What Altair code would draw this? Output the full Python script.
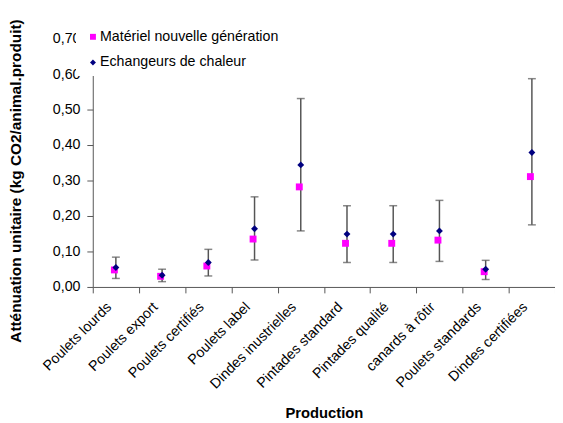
import altair as alt
import pandas as pd

categories = ["Poulets lourds", "Poulets export", "Poulets certifiés", "Poulets label",
              "Dindes inustrielles", "Pintades standard", "Pintades qualité",
              "canards à rôtir", "Poulets standards", "Dindes certifiées"]
series_names = ["Matériel nouvelle génération", "Echangeurs de chaleur"]
materiel = [0.048, 0.030, 0.059, 0.135, 0.282, 0.123, 0.123, 0.132, 0.043, 0.311]
echangeurs = [0.055, 0.033, 0.069, 0.164, 0.344, 0.149, 0.149, 0.158, 0.050, 0.379]
err_low = [0.024, 0.015, 0.031, 0.076, 0.158, 0.069, 0.069, 0.072, 0.021, 0.175]
err_high = [0.084, 0.050, 0.106, 0.254, 0.531, 0.229, 0.229, 0.244, 0.075, 0.587]
y_ticks = [0.0, 0.1, 0.2, 0.3, 0.4, 0.5, 0.6, 0.7]

FONT = "Liberation Sans"
FS = 14.4
AXIS_COL = "#555555"

points = pd.DataFrame({
    "production": categories * 2,
    "serie": [series_names[0]] * len(categories) + [series_names[1]] * len(categories),
    "valeur": materiel + echangeurs,
})
errs = pd.DataFrame({"production": categories, "bas": err_low, "haut": err_high})

x_enc = alt.X(
    "production:N",
    sort=categories,
    scale=alt.Scale(type="band", domain=categories, paddingInner=0, paddingOuter=0),
    axis=alt.Axis(
        title="Production",
        labelAngle=-45,
        labelAlign="right",
        labelBaseline="middle",
        labelOffset=-7,
        labelPadding=12,
        labelOverlap=False,
        tickBand="extent",
        tickSize=6,
        tickColor=AXIS_COL,
        domainColor=AXIS_COL,
        labelFontSize=FS,
        labelColor="#000000",
        titleFontSize=15,
        titleFontWeight="bold",
        titleColor="#000000",
        titleBaseline="alphabetic",
        titleY=132,
        grid=False,
    ),
)

y_scale = alt.Scale(domain=[0, 0.7], nice=False, zero=True)
y_axis = alt.Axis(
    title="Atténuation unitaire (kg CO2/animal.produit)",
    values=y_ticks,
    tickCount=8,
    labelOverlap=False,
    labelExpr="replace(format(datum.value, '.2f'), '.', ',')",
    tickSize=6,
    labelPadding=7,
    tickColor=AXIS_COL,
    domainColor=AXIS_COL,
    labelFontSize=FS,
    labelColor="#000000",
    titleFontSize=15.6,
    titleFontWeight="bold",
    titleColor="#000000",
    titleX=-70,
    titleY=144,
    grid=False,
)

color_scale = alt.Scale(domain=series_names, range=["#FF00FF", "#000080"])
shape_scale = alt.Scale(domain=series_names, range=["square", "diamond"])
legend = alt.Legend(
    title=None,
    orient="none",
    legendX=-17,
    legendY=-16,
    fillColor="white",
    padding=7,
    rowPadding=11,
    symbolOffset=3,
    labelOffset=0,
    symbolSize=36,
    labelLimit=400,
    labelFontSize=FS,
    labelFont=FONT,
    labelColor="#000000",
)

rule = alt.Chart(errs).mark_rule(color=AXIS_COL, strokeWidth=1.5).encode(
    x=x_enc,
    y=alt.Y("bas:Q", scale=y_scale, axis=y_axis),
    y2="haut:Q",
)
cap_top = alt.Chart(errs).mark_tick(color=AXIS_COL, thickness=1.5, size=8).encode(
    x=x_enc, y=alt.Y("haut:Q", scale=y_scale, axis=y_axis)
)
cap_bot = alt.Chart(errs).mark_tick(color=AXIS_COL, thickness=1.5, size=8).encode(
    x=x_enc, y=alt.Y("bas:Q", scale=y_scale, axis=y_axis)
)

def point_layer(name, offset):
    return (
        alt.Chart(points)
        .transform_filter(alt.datum.serie == name)
        .mark_point(filled=True, size=49, opacity=1, strokeWidth=0, xOffset=offset)
        .encode(
            x=x_enc,
            y=alt.Y("valeur:Q", scale=y_scale, axis=y_axis),
            color=alt.Color("serie:N", scale=color_scale, legend=legend),
            shape=alt.Shape("serie:N", scale=shape_scale, legend=legend),
        )
    )

pink = point_layer(series_names[0], -1.5)
blue = point_layer(series_names[1], 0)

chart = (
    alt.layer(rule, cap_top, cap_bot, pink, blue)
    .properties(
        width=469,
        height=252,
        autosize=alt.AutoSizeParams(type="none"),
        padding={"left": 86, "top": 28, "right": 0, "bottom": 135},
    )
    .configure(font=FONT)
    .configure_view(stroke=None)
)

chart.save("out.html", embed_options={"renderer": "svg", "actions": False})
